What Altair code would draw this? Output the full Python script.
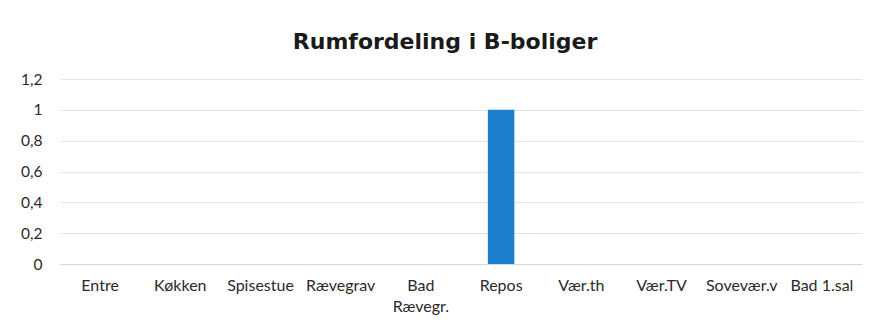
import altair as alt
import pandas as pd

categories = ["Entre", "Køkken", "Spisestue", "Rævegrav", "Bad|Rævegr.",
              "Repos", "Vær.th", "Vær.TV", "Sovevær.v", "Bad 1.sal"]
values = [0, 0, 0, 0, 0, 1, 0, 0, 0, 0]
y_ticks = [0, 0.2, 0.4, 0.6, 0.8, 1.0, 1.2]

df = pd.DataFrame({"rum": categories, "antal": values})

FONT = "Lato"

chart = alt.Chart(df).mark_bar(color="#1B7FCC").encode(
    x=alt.X("rum:N", sort=categories, title=None,
            scale=alt.Scale(paddingInner=0.67, paddingOuter=0.335),
            axis=alt.Axis(labelAngle=0, ticks=False, domainColor="#d6d6d6",
                          labelPadding=13, labelFontSize=16, labelColor="#2a2a2a",
                          labelFont=FONT, labelExpr="split(datum.value, '|')",
                          labelLineHeight=21)),
    y=alt.Y("antal:Q", title=None,
            scale=alt.Scale(domain=[0, 1.2], nice=False),
            axis=alt.Axis(values=y_ticks, ticks=False, domain=False,
                          gridColor="#e4e4e4", labelPadding=18, labelFontSize=15.5,
                          labelColor="#2a2a2a", labelFont=FONT,
                          labelExpr="replace(format(datum.value, '~g'), '.', ',')")),
).properties(
    width=802, height=185,
    background="white",
    autosize=alt.AutoSizeParams(type="none"),
    padding={"left": 60, "top": 79, "right": 10, "bottom": 60},
    title=alt.TitleParams("Rumfordeling i B-boliger", font="DejaVu Sans", fontSize=22,
                          fontWeight="bold", color="#1a1a1a", anchor="middle",
                          offset=18, dx=-16),
).configure_view(stroke=None)

chart.save("out.html", embed_options={"renderer": "svg", "actions": False})
